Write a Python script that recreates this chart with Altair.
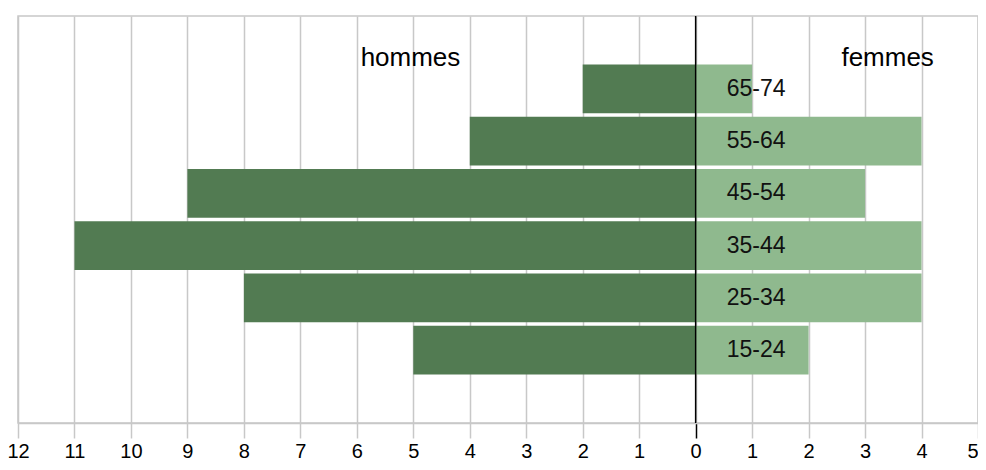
import altair as alt
import pandas as pd

ages = ["65-74", "55-64", "45-54", "35-44", "25-34", "15-24"]
hommes = [2, 4, 9, 11, 8, 5]
femmes = [1, 4, 3, 4, 4, 2]
tick_values = list(range(-12, 6))
headers = ["hommes", "femmes"]
header_x = [-5.05, 3.4]

rows = []
for a, h, f in zip(ages, hommes, femmes):
    rows.append({"age": a, "sexe": "hommes", "value": -h})
    rows.append({"age": a, "sexe": "femmes", "value": f})
df = pd.DataFrame(rows)
lab_df = pd.DataFrame({"age": ages, "x": [0.55] * len(ages)})
head_df = pd.DataFrame({"label": headers, "x": header_x})
zero_df = pd.DataFrame({"x": [0]})

FONT = "Liberation Sans"
GRID = "#c8c8c8"

xscale = alt.Scale(domain=[-12, 5], nice=False, zero=False)
yscale = alt.Scale(domain=ages, paddingInner=0.07, paddingOuter=0.93)

bars = alt.Chart(df).mark_bar().encode(
    x=alt.X("value:Q", scale=xscale, stack=None,
            axis=alt.Axis(values=tick_values, labelExpr="abs(datum.value)",
                          title=None, grid=True, gridColor=GRID, gridWidth=1.5,
                          domainColor=GRID, domainWidth=1.5,
                          tickColor={"condition": {"test": "datum.value == 0", "value": "black"}, "value": GRID},
                          tickWidth=1.5, tickSize=15, labelPadding=3,
                          labelAlign={"condition": {"test": "datum.value == 5", "value": "right"}, "value": "center"},
                          labelFontSize=20, labelColor="black", labelFont=FONT,
                          labelFlush=False, labelOverlap=False)),
    y=alt.Y("age:N", scale=yscale, axis=None),
    color=alt.Color("sexe:N", scale=alt.Scale(domain=["hommes", "femmes"],
                                              range=["#527b52", "#8fb98e"]), legend=None),
)

zero = alt.Chart(zero_df).mark_rule(color="black", strokeWidth=1.5).encode(
    x=alt.X("x:Q", scale=xscale)
)

labels = alt.Chart(lab_df).mark_text(align="left", baseline="middle", fontSize=23,
                                     font=FONT, color="#111111").encode(
    x=alt.X("x:Q", scale=xscale),
    y=alt.Y("age:N", scale=yscale),
    text="age:N",
)

heads = alt.Chart(head_df).mark_text(align="center", baseline="alphabetic", fontSize=26,
                                     font=FONT, color="black").encode(
    x=alt.X("x:Q", scale=xscale),
    y=alt.value(50),
    text="label:N",
)

chart = alt.layer(bars, zero, labels, heads).properties(
    width=960, height=407,
    autosize=alt.AutoSizeParams(type="none"),
    padding={"left": 10, "top": 8, "right": 0, "bottom": 39},
).configure_view(stroke=GRID, strokeWidth=1.5)

chart.save("out.html", embed_options={"renderer": "svg", "actions": False})
